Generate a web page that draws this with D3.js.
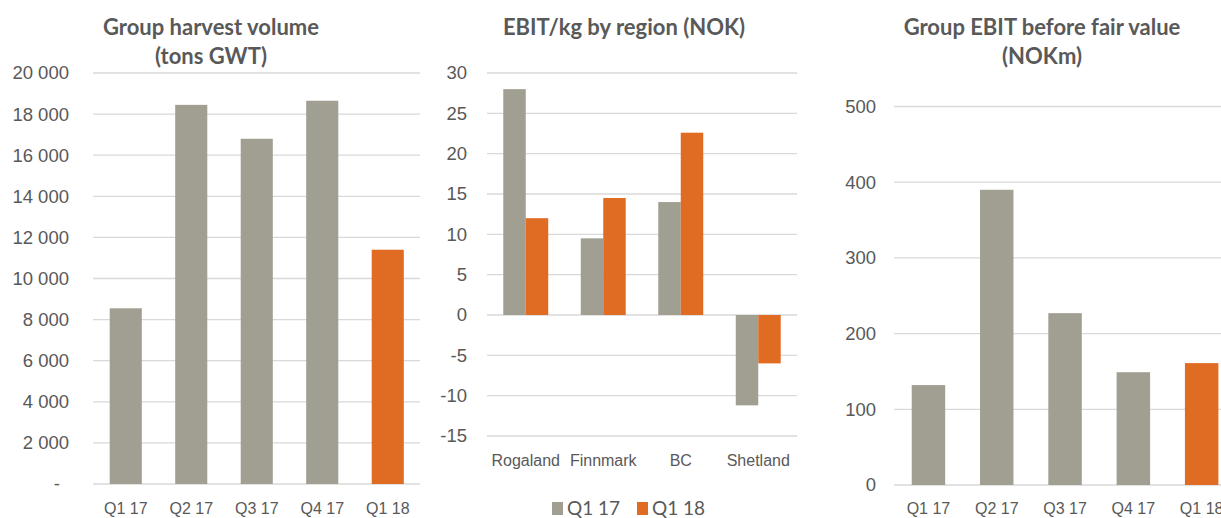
<!DOCTYPE html>
<html>
<head>
<meta charset="utf-8">
<script src="https://cdn.jsdelivr.net/npm/d3@7"></script>
<style>
  html, body { margin: 0; padding: 0; background: #fff; }
  svg { display: block; font-family: Lato, "Open Sans", sans-serif; }
  .tick text { fill: #595959; }
  .title { fill: #595959; font-weight: bold; font-size: 22px; }
</style>
</head>
<body>
<svg id="chart" width="1221" height="518"></svg>
<script>
// --- data ---
const quarters = ['Q1 17', 'Q2 17', 'Q3 17', 'Q4 17', 'Q1 18'];
const harvestVolume = [8550, 18450, 16800, 18650, 11400];
const harvestTicks = [0, 2000, 4000, 6000, 8000, 10000, 12000, 14000, 16000, 18000, 20000];

const regions = ['Rogaland', 'Finnmark', 'BC', 'Shetland'];
const seriesNames = ['Q1 17', 'Q1 18'];
const ebitKgQ117 = [28, 9.5, 14, -11.2];
const ebitKgQ118 = [12, 14.5, 22.6, -6];
const ebitKgTicks = [-15, -10, -5, 0, 5, 10, 15, 20, 25, 30];

const groupEbit = [132, 390, 227, 149, 161];
const groupEbitTicks = [0, 100, 200, 300, 400, 500];

const GREY = '#a19f92';
const ORANGE = '#e06b22';
const GRID = '#d9d9d9';

const svg = d3.select('#chart');
const nf = d3.formatLocale({ decimal: ',', thousands: '\u00a0', grouping: [3], currency: ['', ''] }).format(',');

function gridY(g, y, x0, x1, ticks) {
    g.append('g')
        .selectAll('line')
        .data(ticks)
        .join('line')
        .attr('x1', x0).attr('x2', x1)
        .attr('y1', d => y(d)).attr('y2', d => y(d))
        .attr('stroke', GRID).attr('stroke-width', 1.3);
}

function axisY(g, y, x, ticks, fmt, fontSize) {
    g.append('g')
        .attr('transform', `translate(${x},0)`)
        .call(d3.axisLeft(y).tickValues(ticks).tickSize(0).tickPadding(0).tickFormat(fmt))
        .call(a => a.select('.domain').remove())
        .selectAll('text').attr('font-size', fontSize);
}

function axisX(g, x, yPos, fontSize) {
    g.append('g')
        .attr('transform', `translate(0,${yPos})`)
        .call(d3.axisBottom(x).tickSize(0).tickPadding(0))
        .call(a => a.select('.domain').remove())
        .selectAll('text').attr('font-size', fontSize).attr('dy', '0.35em');
}

function title(lines, cx) {
    svg.append('text').attr('class', 'title')
        .attr('text-anchor', 'middle')
        .selectAll('tspan')
        .data(lines)
        .join('tspan')
        .attr('x', cx)
        .attr('y', (d, i) => 35 + i * 29)
        .text(d => d);
}

// --- panel 1: harvest volume ---
{
    const g = svg.append('g');
    const x = d3.scaleBand().domain(quarters).range([93, 420.5]).paddingInner(0.51).paddingOuter(0.255);
    const y = d3.scaleLinear().domain([0, 20000]).range([484, 73]);
    gridY(g, y, 93, 420, harvestTicks);
    axisY(g, y, 69, harvestTicks, d => d === 0 ? '-' : nf(d), 18.5);
    g.selectAll('.tick text').filter(d => d === 0).attr('x', -9);
    g.append('g').selectAll('rect')
        .data(harvestVolume)
        .join('rect')
        .attr('x', (d, i) => x(quarters[i]))
        .attr('width', x.bandwidth())
        .attr('y', d => y(d))
        .attr('height', d => y(0) - y(d))
        .attr('fill', (d, i) => i === quarters.length - 1 ? ORANGE : GREY);
    axisX(g, x, 508, 16);
    title(['Group harvest volume', '(tons GWT)'], 211);
}

// --- panel 2: EBIT/kg by region ---
{
    const g = svg.append('g');
    const x0 = d3.scaleBand().domain(regions).range([487, 797]).paddingInner(0.42).paddingOuter(0.21);
    const x1 = d3.scaleBand().domain(seriesNames).range([0, x0.bandwidth()]);
    const y = d3.scaleLinear().domain([-15, 30]).range([436, 73]);
    gridY(g, y, 487, 797, ebitKgTicks);
    axisY(g, y, 467, ebitKgTicks, d => d, 18.5);
    const rows = regions.map((r, i) => ({ region: r, values: [ebitKgQ117[i], ebitKgQ118[i]] }));
    const colors = d3.scaleOrdinal().domain(seriesNames).range([GREY, ORANGE]);
    g.append('g').selectAll('g')
        .data(rows)
        .join('g')
        .attr('transform', d => `translate(${x0(d.region)},0)`)
        .selectAll('rect')
        .data(d => d.values.map((v, j) => ({ key: seriesNames[j], v })))
        .join('rect')
        .attr('x', d => x1(d.key))
        .attr('width', x1.bandwidth())
        .attr('y', d => y(Math.max(0, d.v)))
        .attr('height', d => Math.abs(y(d.v) - y(0)))
        .attr('fill', d => colors(d.key));
    axisX(g, x0, 460, 16);
    title(['EBIT/kg by region (NOK)'], 624);

    // legend
    const legend = svg.append('g').attr('transform', 'translate(552,508)');
    const item = legend.selectAll('g')
        .data(seriesNames)
        .join('g')
        .attr('transform', (d, i) => `translate(${i * 85},0)`);
    item.append('rect').attr('x', 0).attr('y', -6).attr('width', 11).attr('height', 13)
        .attr('fill', d => colors(d));
    item.append('text').attr('x', 15).attr('dy', '0.35em')
        .attr('font-size', 19).attr('fill', '#595959')
        .text(d => d);
}

// --- panel 3: group EBIT before fair value ---
{
    const g = svg.append('g');
    const x = d3.scaleBand().domain(quarters).range([894.3, 1235.8]).paddingInner(0.51).paddingOuter(0.255);
    const y = d3.scaleLinear().domain([0, 500]).range([485, 106.5]);
    gridY(g, y, 894, 1221, groupEbitTicks);
    axisY(g, y, 876, groupEbitTicks, d => d, 18.5);
    g.append('g').selectAll('rect')
        .data(groupEbit)
        .join('rect')
        .attr('x', (d, i) => x(quarters[i]))
        .attr('width', x.bandwidth())
        .attr('y', d => y(d))
        .attr('height', d => y(0) - y(d))
        .attr('fill', (d, i) => i === quarters.length - 1 ? ORANGE : GREY);
    axisX(g, x, 508, 16);
    title(['Group EBIT before fair value', '(NOKm)'], 1042);
}
</script>
</body>
</html>
